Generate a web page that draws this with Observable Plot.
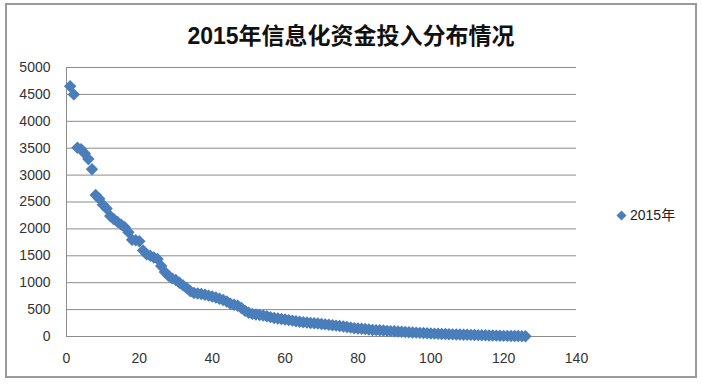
<!DOCTYPE html>
<html>
<head>
<meta charset="utf-8">
<script src="https://cdn.jsdelivr.net/npm/d3@7"></script>
<script src="https://cdn.jsdelivr.net/npm/@observablehq/plot@0.6"></script>
<style>
  html, body { margin: 0; padding: 0; background: #fff; }
  #wrap { position: relative; width: 702px; height: 384px; overflow: hidden; font-family: "Liberation Sans", "Noto Sans", "Noto Sans CJK SC", sans-serif; }
  #frame { position: absolute; left: 5px; top: 3px; width: 688px; height: 371px; border: 2px solid #9a9a9a; box-sizing: content-box; pointer-events: none; }
  #title { position: absolute; left: 0; width: 702px; top: 17px; text-align: center; font-size: 23px; font-weight: bold; color: #111; font-family: "Liberation Sans", "Noto Sans CJK SC", sans-serif; }
  #legend { position: absolute; left: 616px; top: 204px; font-size: 14px; color: #222; font-family: "Liberation Sans", "Noto Sans CJK SC", sans-serif; }
  #legend svg { vertical-align: -1px; margin-right: 3px; }
  #chart { position: absolute; left: 0; top: 0; }
</style>
</head>
<body>
<div id="wrap">
  <div id="chart"></div>
  <div id="title">2015年信息化资金投入分布情况</div>
  <div id="legend"><svg width="11" height="11"><path d="M5.5 0.5 L10.5 5.5 L5.5 10.5 L0.5 5.5 Z" fill="#4a7ebb"/></svg>2015年</div>
  <div id="frame"></div>
</div>
<script>
const seriesName = "2015年";
const rank = [1,2,3,4,5,6,7,8,9,10,11,12,13,14,15,16,17,18,19,20,21,22,23,24,25,26,27,28,29,30,31,32,33,34,35,36,37,38,39,40,41,42,43,44,45,46,47,48,49,50,51,52,53,54,55,56,57,58,59,60,61,62,63,64,65,66,67,68,69,70,71,72,73,74,75,76,77,78,79,80,81,82,83,84,85,86,87,88,89,90,91,92,93,94,95,96,97,98,99,100,101,102,103,104,105,106,107,108,109,110,111,112,113,114,115,116,117,118,119,120,121,122,123,124,125,126];
const amount = [4650,4500,3510,3480,3400,3300,3110,2630,2560,2450,2380,2240,2180,2130,2080,2030,1940,1800,1790,1770,1600,1530,1500,1470,1440,1310,1200,1130,1080,1050,1000,950,900,840,810,800,790,775,760,745,725,700,680,650,610,590,570,530,480,440,420,410,400,390,375,360,345,335,325,315,305,295,285,275,265,260,252,245,240,232,225,218,210,202,195,185,175,165,155,150,145,138,130,122,118,115,110,105,100,96,92,88,84,80,76,72,68,64,60,57,54,51,48,45,42,40,38,36,34,32,30,28,26,24,22,20,18,16,14,12,11,10,9,8,7,6];
const xTicks = [0,20,40,60,80,100,120,140];
const yTicks = [0,500,1000,1500,2000,2500,3000,3500,4000,4500,5000];

const data = rank.map((r, i) => ({x: r, y: amount[i]}));

const chart = Plot.plot({
  width: 702,
  height: 384,
  marginLeft: 66,
  marginRight: 126,
  marginTop: 67,
  marginBottom: 48,
  style: {fontFamily: "Liberation Sans, Noto Sans, sans-serif", fontSize: "14px", color: "#333", background: "transparent"},
  x: {domain: [0, 140], ticks: xTicks, tickFormat: d => String(d), tickSize: 0, tickPadding: 17, label: null},
  y: {domain: [0, 5000], ticks: yTicks, tickFormat: d => String(d), tickSize: 0, tickPadding: 16, label: null},
  marks: [
    Plot.ruleY(yTicks, {stroke: "#8c8c8c", strokeWidth: 1}),
    Plot.ruleX([0], {stroke: "#8c8c8c", strokeWidth: 1}),
    Plot.dot(data, {x: "x", y: "y", symbol: "diamond2", r: 5.6, fill: "#4a7ebb", stroke: "none"})
  ]
});
document.getElementById("chart").appendChild(chart);
</script>
</body>
</html>
